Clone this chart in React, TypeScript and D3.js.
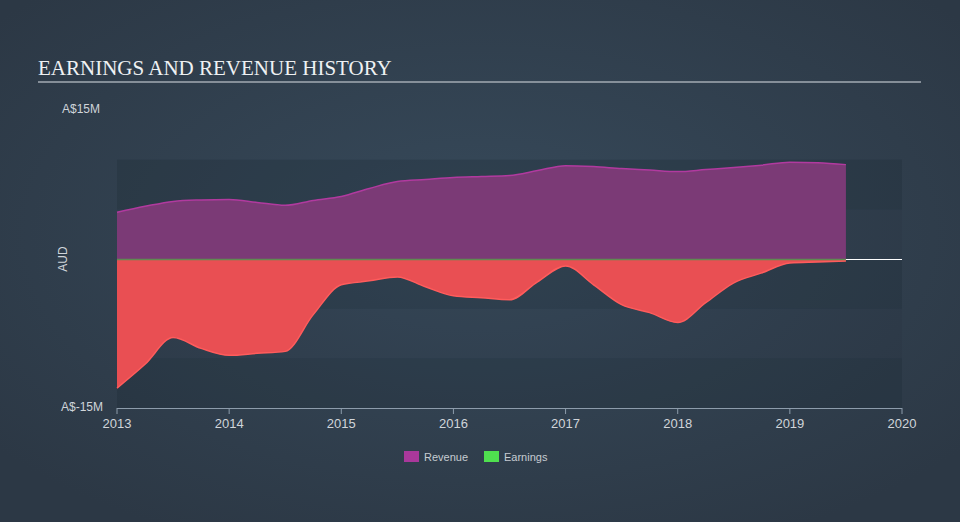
import React from 'react';
import * as d3 from 'd3';

const dates = [
  2013.0, 2013.25, 2013.5, 2013.75, 2014.0, 2014.25, 2014.5, 2014.75, 2015.0,
  2015.25, 2015.5, 2015.75, 2016.0, 2016.25, 2016.5, 2016.75, 2017.0, 2017.25,
  2017.5, 2017.75, 2018.0, 2018.25, 2018.5, 2018.75, 2019.0, 2019.25, 2019.5,
];
// values in A$ millions
const revenue = [
  4.7, 5.3, 5.8, 5.95, 6.0, 5.7, 5.4, 5.9, 6.3, 7.1, 7.8, 8.0, 8.2, 8.3, 8.4,
  8.9, 9.4, 9.3, 9.1, 8.95, 8.8, 9.0, 9.2, 9.45, 9.75, 9.7, 9.5,
];
const earnings = [
  -13.0, -10.6, -7.9, -9.0, -9.7, -9.5, -9.3, -5.6, -2.6, -2.2, -1.8, -2.8, -3.7,
  -3.9, -4.1, -2.3, -0.7, -2.6, -4.6, -5.4, -6.4, -4.4, -2.4, -1.4, -0.4, -0.3,
  -0.2,
];
const yearTicks = [2013, 2014, 2015, 2016, 2017, 2018, 2019, 2020];
const bandEdges = [10, 5, 0, -5, -10, -15];
const legendItems = [
  { label: 'Revenue', color: '#a9389b' },
  { label: 'Earnings', color: '#4fe04f' },
];

const width = 960;
const height = 522;
const sans = '"Liberation Sans", Arial, sans-serif';

const App = () => {
  const x = d3.scaleLinear().domain([2013, 2020]).range([117, 902]);
  const y = d3.scaleLinear().domain([-15, 15]).range([408, 110]);

  const area = d3
    .area<number>()
    .x((_, i) => x(dates[i]))
    .y0(y(0))
    .y1((d) => y(d))
    .curve(d3.curveMonotoneX);
  const line = d3
    .line<number>()
    .x((_, i) => x(dates[i]))
    .y((d) => y(d))
    .curve(d3.curveMonotoneX);

  const lastX = x(dates[dates.length - 1]);
  const zeroY = Math.round(y(0)) + 0.5;

  return (
    <svg
      width={width}
      height={height}
      style={{ position: 'absolute', left: 0, top: 0 }}
    >
      <defs>
        <radialGradient id="bg" cx="50%" cy="45%" r="65%">
          <stop offset="0%" stopColor="#374a5b" />
          <stop offset="100%" stopColor="#2c3845" />
        </radialGradient>
      </defs>
      <rect width={width} height={height} fill="url(#bg)" />

      <text
        x={38}
        y={75}
        fill="#eef1f3"
        style={{ fontFamily: '"Liberation Serif", "Times New Roman", serif', fontSize: 21 }}
      >
        EARNINGS AND REVENUE HISTORY
      </text>
      <line x1={38} x2={921} y1={82} y2={82} stroke="#a3abb3" strokeWidth={1.5} />

      {/* alternating bands */}
      {bandEdges.slice(0, -1).map((v, i) => (
        <rect
          key={v}
          x={x(2013)}
          width={x(2020) - x(2013)}
          y={y(v)}
          height={y(bandEdges[i + 1]) - y(v)}
          fill={i % 2 === 0 ? 'rgba(25,35,45,0.22)' : 'rgba(25,35,45,0.07)'}
        />
      ))}

      <path d={area(revenue) || undefined} fill="#7b3a76" />
      <path d={line(revenue) || undefined} fill="none" stroke="#b13a9f" strokeWidth={1.5} />
      <path d={area(earnings) || undefined} fill="#e94f53" />
      <path d={line(earnings) || undefined} fill="none" stroke="#ff5c5c" strokeWidth={1.5} />

      <line x1={x(2013)} x2={lastX} y1={zeroY} y2={zeroY} stroke="#5f8a52" strokeWidth={1.5} />
      <line x1={lastX} x2={x(2020)} y1={zeroY} y2={zeroY} stroke="#ffffff" strokeWidth={1.2} />

      {/* x axis */}
      <line x1={x(2013)} x2={x(2020)} y1={408.5} y2={408.5} stroke="#8d9cab" strokeWidth={1} />
      {yearTicks.map((t) => (
        <g key={t} transform={`translate(${x(t)},408)`}>
          <line y1={0} y2={6} stroke="#8d9cab" />
          <text
            y={20}
            textAnchor="middle"
            fill="#d0d5da"
            style={{ fontFamily: sans, fontSize: 13 }}
          >
            {t}
          </text>
        </g>
      ))}

      {/* y labels */}
      <text x={62} y={113} fill="#d0d5da" style={{ fontFamily: sans, fontSize: 12 }}>
        A$15M
      </text>
      <text x={103} y={411} textAnchor="end" fill="#d0d5da" style={{ fontFamily: sans, fontSize: 12 }}>
        A$-15M
      </text>
      <text
        transform={`translate(67,${y(0)}) rotate(-90)`}
        textAnchor="middle"
        fill="#d0d5da"
        style={{ fontFamily: sans, fontSize: 12 }}
      >
        AUD
      </text>

      {/* legend */}
      {legendItems.map((item, i) => (
        <g key={item.label} transform={`translate(${404 + i * 80},451)`}>
          <rect width={15} height={11} fill={item.color} />
          <text x={20} y={10} fill="#c6ccd2" style={{ fontFamily: sans, fontSize: 11 }}>
            {item.label}
          </text>
        </g>
      ))}
    </svg>
  );
};

export default App;
